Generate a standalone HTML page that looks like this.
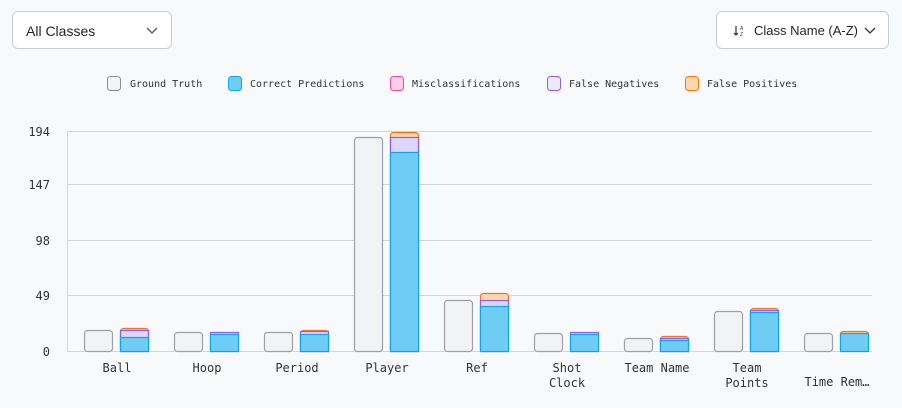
<!DOCTYPE html>
<html><head><meta charset="utf-8"><style>
body{margin:0;background:#f8f9fb;width:902px;height:408px;overflow:hidden;font-family:"Liberation Sans",sans-serif}
.dd{position:absolute;top:11px;height:38px;background:#fff;border:1px solid #c8cbd1;border-radius:6px;box-sizing:border-box;font-size:14px;color:#1f2328;line-height:38px}
</style></head><body>
<div class="dd" style="left:12px;width:160px;padding-left:13px">All Classes<svg style="position:absolute;left:133px;top:15px" width="12" height="8"><path d="M1 1l5 5 5-5" fill="none" stroke="#555" stroke-width="1.3"/></svg></div>
<div class="dd" style="left:716px;width:173px;padding-left:37px;font-size:13px">Class Name (A-Z)<svg style="position:absolute;left:16px;top:13px" width="14" height="12"><path d="M3 1v9M1 8l2 2 2-2" fill="none" stroke="#333" stroke-width="1.2"/><text x="7" y="5" font-size="5" fill="#333" font-family="Liberation Sans">A</text><text x="7" y="11" font-size="5" fill="#333" font-family="Liberation Sans">Z</text></svg><svg style="position:absolute;left:147px;top:15px" width="12" height="8"><path d="M1 1l5 5 5-5" fill="none" stroke="#333" stroke-width="1.3"/></svg></div>
<svg width="902" height="408" style="position:absolute;left:0;top:0" font-family="DejaVu Sans Mono, Liberation Mono, monospace">
<g font-size="10" fill="#333">
<rect x="107.5" y="76.5" width="13" height="14" rx="3" fill="#f2f3f5" stroke="#8a8f98"/><text x="130" y="87">Ground Truth</text>
<rect x="228.5" y="76.5" width="13" height="14" rx="3" fill="#6fcdf5" stroke="#0ea5e9"/><text x="250" y="87">Correct Predictions</text>
<rect x="390.5" y="76.5" width="13" height="14" rx="3" fill="#fbcfe8" stroke="#ec4899"/><text x="412" y="87">Misclassifications</text>
<rect x="547.5" y="76.5" width="13" height="14" rx="3" fill="#ede9fe" stroke="#8b5cf6"/><text x="569" y="87">False Negatives</text>
<rect x="685.5" y="76.5" width="13" height="14" rx="3" fill="#fed7aa" stroke="#f97316"/><text x="707" y="87">False Positives</text>
</g>
<g stroke="#d4d6da" stroke-width="1">
<line x1="67" y1="131.5" x2="872" y2="131.5"/><line x1="67" y1="184.5" x2="872" y2="184.5"/><line x1="67" y1="240.5" x2="872" y2="240.5"/><line x1="67" y1="295.5" x2="872" y2="295.5"/><line x1="67" y1="351.5" x2="872" y2="351.5"/><line x1="67.5" y1="131" x2="67.5" y2="352"/>
</g>
<g font-size="12" fill="#333" text-anchor="end">
<text x="50" y="136">194</text><text x="50" y="189">147</text><text x="50" y="245">98</text><text x="50" y="300">49</text><text x="50" y="356">0</text>
</g>
<g id="bars"></g>
<g font-size="12" fill="#333" text-anchor="middle">
<text x="117" y="372">Ball</text><text x="207" y="372">Hoop</text><text x="297" y="372">Period</text><text x="387" y="372">Player</text><text x="477" y="372">Ref</text>
<text x="567" y="372">Shot</text><text x="567" y="387">Clock</text><text x="657" y="372">Team Name</text>
<text x="747" y="372">Team</text><text x="747" y="387">Points</text><text x="837" y="386">Time Rem…</text>
</g>
</svg>
<script>
var d=[[330,337,330,328],[332,334,332,0],[332,334,331,330],[137,152,137,132],[300,306,300,293],[333,334,332,0],[338,340,338,336],[311,312,310,308],[333,333,0,331]];
var s='';
d.forEach(function(r,i){var x=84+90*i;
s+='<rect x="'+(x+.5)+'" y="'+(r[0]+.5)+'" width="28" height="'+(351-r[0])+'" rx="3" fill="#f2f3f5" stroke="#9ca0a8" stroke-width="1.2"/>';
var px=x+36;
if(r[3])s+='<rect x="'+(px+.5)+'" y="'+(r[3]+.5)+'" width="28" height="'+(351-r[3])+'" rx="3" fill="#fed7aa" stroke="#f97316" stroke-width="1.2"/>';
if(r[2])s+='<rect x="'+(px+.5)+'" y="'+(r[2]+.5)+'" width="28" height="'+(351-r[2])+'" fill="#ddd6fe" stroke="#8b5cf6" stroke-width="1.2"/>';
s+='<rect x="'+(px+.5)+'" y="'+(r[1]+.5)+'" width="28" height="'+(351-r[1])+'" fill="#6fcdf5" stroke="#0ea5e9" stroke-width="1.2"/>';
});
document.getElementById('bars').innerHTML=s;
</script>
</body></html>
